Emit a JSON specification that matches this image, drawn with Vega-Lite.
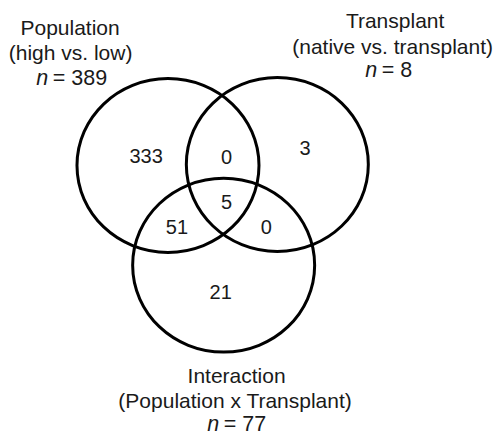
{
  "$schema": "https://vega.github.io/schema/vega-lite/v6.json",
  "width": 497,
  "height": 442,
  "padding": 0,
  "autosize": {"type": "fit", "contains": "padding"},
  "background": "white",
  "config": {"view": {"stroke": null}, "text": {"font": "Liberation Sans", "fontSize": 20, "color": "#1a1a1a"}},
  "datasets": {
    "circles": [
      {"set": "Population", "cx": 169, "cy": 168.5},
      {"set": "Transplant", "cx": 279, "cy": 167.5},
      {"set": "Interaction", "cx": 225, "cy": 270}
    ],
    "regions": [
      {"region": "Population only", "count": "333", "x": 147, "y": 160},
      {"region": "Population & Transplant", "count": "0", "x": 228, "y": 161},
      {"region": "Transplant only", "count": "3", "x": 307, "y": 152},
      {"region": "All three", "count": "5", "x": 228, "y": 207},
      {"region": "Population & Interaction", "count": "51", "x": 178, "y": 232},
      {"region": "Transplant & Interaction", "count": "0", "x": 268, "y": 232},
      {"region": "Interaction only", "count": "21", "x": 222, "y": 298}
    ],
    "labels": [
      {"set": "Population", "line": "Population", "x": 70.5, "y": 30},
      {"set": "Population", "line": "(high vs. low)", "x": 71, "y": 55},
      {"set": "Transplant", "line": "Transplant", "x": 397.5, "y": 22},
      {"set": "Transplant", "line": "(native vs. transplant)", "x": 395, "y": 49},
      {"set": "Interaction", "line": "Interaction", "x": 238, "y": 384},
      {"set": "Interaction", "line": "(Population x Transplant)", "x": 236.5, "y": 409}
    ],
    "counts": [
      {"set": "Population", "n": "n", "rest": "= 389", "x": 48.5, "y": 80},
      {"set": "Transplant", "n": "n", "rest": "= 8", "x": 379.5, "y": 72},
      {"set": "Interaction", "n": "n", "rest": "= 77", "x": 220.5, "y": 433}
    ]
  },
  "layer": [
    {
      "data": {"name": "circles"},
      "mark": {
        "type": "point",
        "shape": "M-1,0A1,0.955,0,1,1,1,0A1,0.955,0,1,1,-1,0Z",
        "filled": false,
        "stroke": "black",
        "strokeWidth": 3,
        "opacity": 1,
        "size": 33124
      },
      "encoding": {
        "x": {"field": "cx", "type": "quantitative", "scale": {"domain": [0, 497]}, "axis": null},
        "y": {"field": "cy", "type": "quantitative", "scale": {"domain": [0, 442], "reverse": true}, "axis": null}
      }
    },
    {
      "data": {"name": "regions"},
      "mark": {"type": "text", "align": "center", "baseline": "middle"},
      "encoding": {
        "x": {"field": "x", "type": "quantitative"},
        "y": {"field": "y", "type": "quantitative"},
        "text": {"field": "count"}
      }
    },
    {
      "data": {"name": "labels"},
      "mark": {"type": "text", "align": "center", "baseline": "middle", "fontSize": 21},
      "encoding": {
        "x": {"field": "x", "type": "quantitative"},
        "y": {"field": "y", "type": "quantitative"},
        "text": {"field": "line"}
      }
    },
    {
      "data": {"name": "counts"},
      "mark": {"type": "text", "align": "right", "baseline": "middle", "fontStyle": "italic", "fontSize": 21.5},
      "encoding": {
        "x": {"field": "x", "type": "quantitative"},
        "y": {"field": "y", "type": "quantitative"},
        "text": {"field": "n"}
      }
    },
    {
      "data": {"name": "counts"},
      "mark": {"type": "text", "align": "left", "baseline": "middle", "dx": 4.5, "fontSize": 21.5},
      "encoding": {
        "x": {"field": "x", "type": "quantitative"},
        "y": {"field": "y", "type": "quantitative"},
        "text": {"field": "rest"}
      }
    }
  ]
}
